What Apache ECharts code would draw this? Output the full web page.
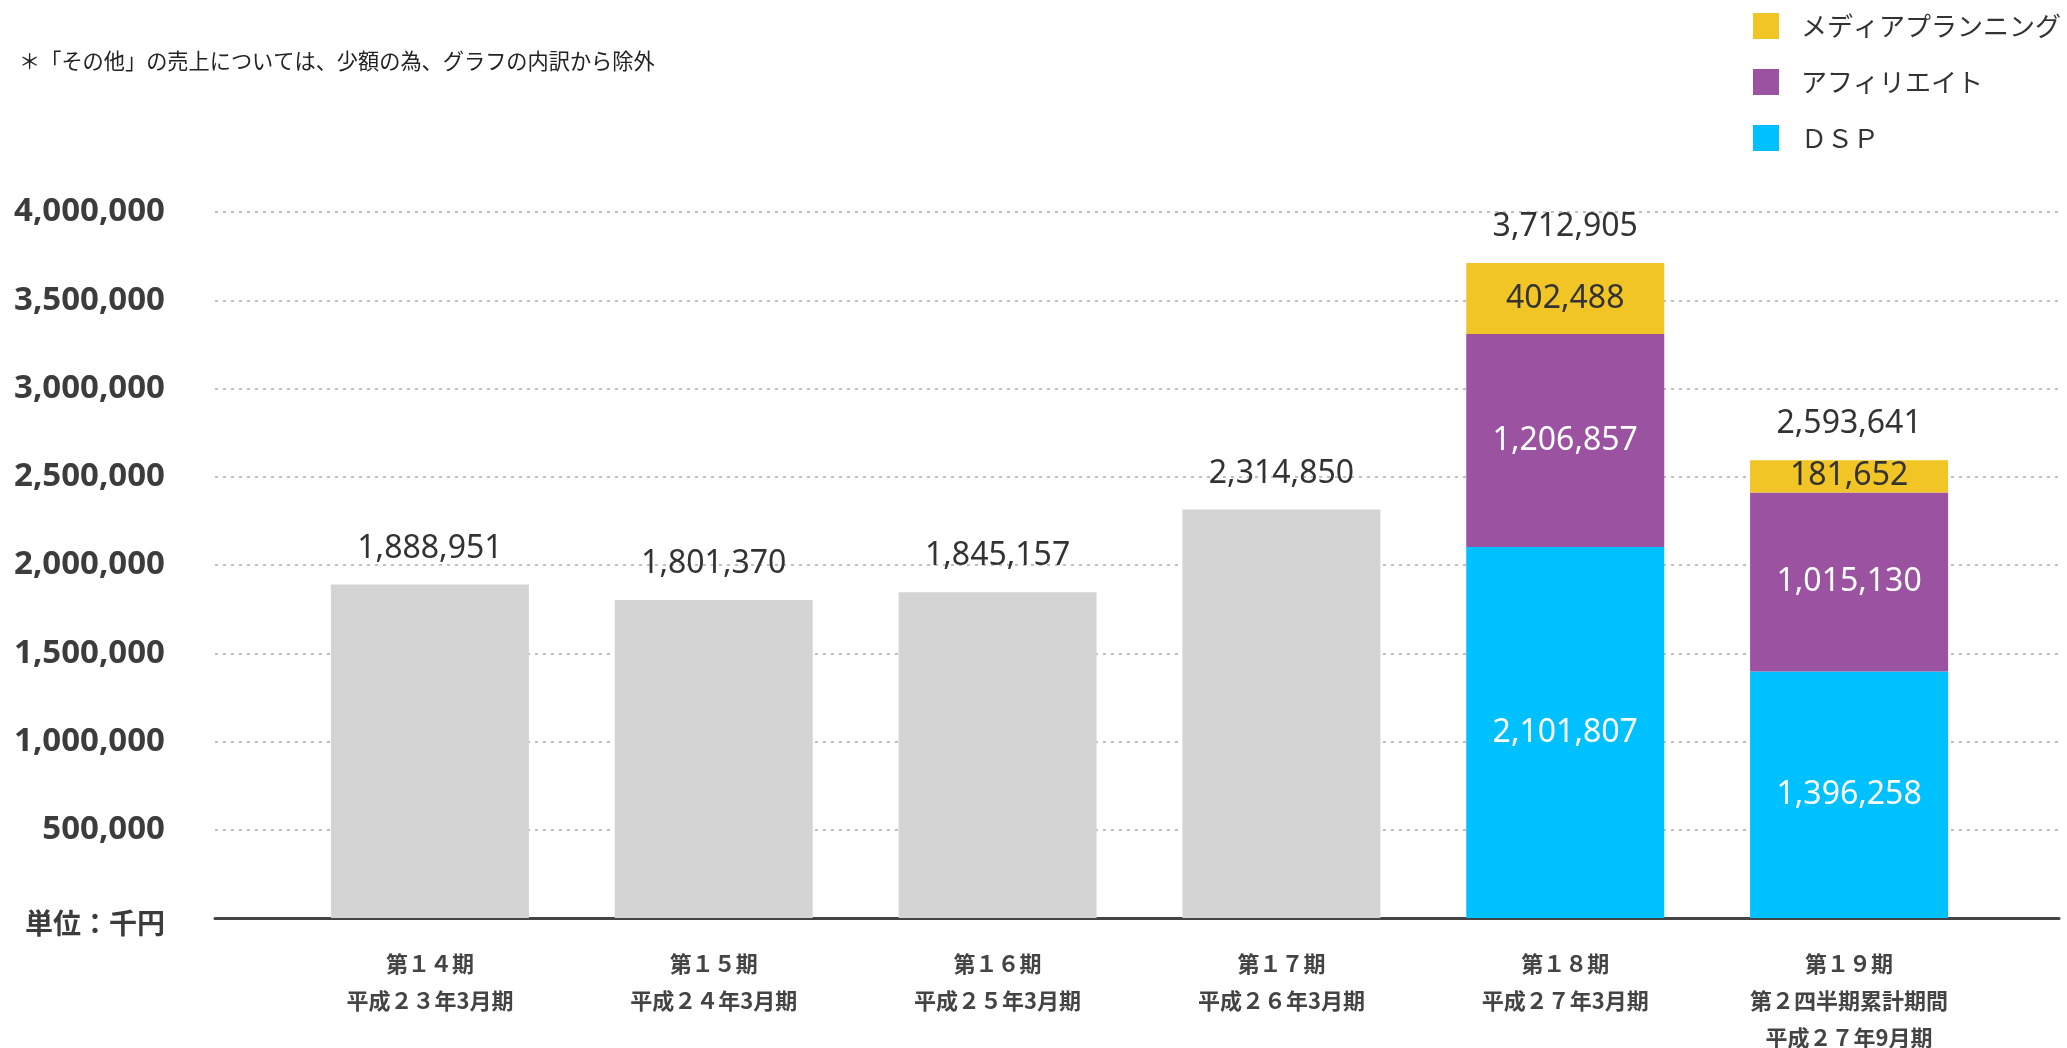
<!DOCTYPE html>
<html>
<head>
<meta charset="utf-8">
<script src="https://cdn.jsdelivr.net/npm/echarts@6/dist/echarts.min.js"></script>
<style>
  html, body { margin: 0; padding: 0; background: #fff; }
  #salesChart { width: 2067px; height: 1048px; }
</style>
</head>
<body>
<div id="salesChart"></div>
<script>
// 期ごとの売上（単位：千円）
var categories = [
  '第１４期\n平成２３年3月期',
  '第１５期\n平成２４年3月期',
  '第１６期\n平成２５年3月期',
  '第１７期\n平成２６年3月期',
  '第１８期\n平成２７年3月期',
  '第１９期\n第２四半期累計期間\n平成２７年9月期'
];
var totals = [1888951, 1801370, 1845157, 2314850, 3712905, 2593641];
var grayValues = [1888951, 1801370, 1845157, 2314850, '-', '-'];
var dspValues = ['-', '-', '-', '-', 2101807, 1396258];
var affiliateValues = ['-', '-', '-', '-', 1206857, 1015130];
var mediaValues = ['-', '-', '-', '-', 402488, 181652];
var seriesNames = ['ＤＳＰ', 'アフィリエイト', 'メディアプランニング'];

var yTicks = { min: 0, max: 4000000, interval: 500000 };

function fmt(v) {
  return Number(v).toLocaleString('en-US');
}

var myChart = echarts.init(document.getElementById('salesChart'));

var numFont = '"Noto Sans", "DejaVu Sans", sans-serif';
var jpFont = '"Noto Sans CJK JP", sans-serif';

function segment(name, values, color, textColor) {
  return {
    name: name,
    type: 'bar',
    stack: 'sales',
    xAxisIndex: 1,
    yAxisIndex: 1,
    barWidth: 198,
    data: values,
    itemStyle: { color: color },
    label: {
      show: true,
      position: 'inside',
      formatter: function (p) { return fmt(p.value); },
      color: textColor,
      fontFamily: numFont,
      fontSize: 32
    }
  };
}

var option = {
  animation: false,
  backgroundColor: '#fff',
  title: {
    text: '＊「その他」の売上については、少額の為、グラフの内訳から除外',
    left: 14,
    top: 45,
    textStyle: {
      fontFamily: jpFont,
      fontWeight: 'normal',
      fontSize: 21.2,
      color: '#222'
    }
  },
  legend: {
    orient: 'vertical',
    left: 1748,
    top: 8,
    itemWidth: 26,
    itemHeight: 26,
    itemGap: 30,
    icon: 'rect',
    data: ['メディアプランニング', 'アフィリエイト', 'ＤＳＰ'],
    textStyle: {
      fontFamily: jpFont,
      fontSize: 26,
      color: '#333',
      padding: [0, 0, 0, 17]
    }
  },
  grid: [
    // 目盛線と軸線用（全幅）
    { left: 215, right: 8, top: 212, bottom: 130, outerBoundsMode: 'none' },
    // 棒グラフ用
    { left: 288, right: 76, top: 212, bottom: 130, outerBoundsMode: 'none' }
  ],
  xAxis: [
    {
      type: 'category',
      gridIndex: 0,
      data: categories,
      axisLine: { lineStyle: { color: '#444', width: 3 } },
      axisTick: { show: false },
      axisLabel: { show: false }
    },
    {
      type: 'category',
      gridIndex: 1,
      data: categories,
      axisLine: { show: false },
      axisTick: { show: false },
      axisLabel: {
        margin: 27,
        lineHeight: 37,
        fontFamily: jpFont,
        fontWeight: 'bold',
        fontSize: 22,
        color: '#444'
      }
    }
  ],
  yAxis: [
    {
      type: 'value',
      gridIndex: 0,
      min: yTicks.min,
      max: yTicks.max,
      interval: yTicks.interval,
      axisLine: { show: false },
      axisTick: { show: false },
      splitLine: { lineStyle: { color: '#aaa', type: [3, 5], width: 1.5 } },
      axisLabel: {
        margin: 50,
        formatter: function (v) { return v === 0 ? '{u|単位：千円}' : fmt(v); },
        fontFamily: numFont,
        fontWeight: 'bold',
        fontSize: 33,
        color: '#3c3c3c',
        rich: {
          u: { fontFamily: jpFont, fontWeight: 'bold', fontSize: 28, color: '#3c3c3c', padding: [10, 0, 0, 0] }
        }
      }
    },
    {
      type: 'value',
      gridIndex: 1,
      min: yTicks.min,
      max: yTicks.max,
      interval: yTicks.interval,
      show: false,
      splitLine: { show: false }
    }
  ],
  series: [
    {
      name: '合計（内訳なし）',
      type: 'bar',
      stack: 'sales',
      xAxisIndex: 1,
      yAxisIndex: 1,
      barWidth: 198,
      data: grayValues,
      itemStyle: { color: '#d4d4d4' }
    },
    segment(seriesNames[0], dspValues, '#00c1ff', '#fff'),
    segment(seriesNames[1], affiliateValues, '#9a52a1', '#fff'),
    segment(seriesNames[2], mediaValues, '#f1c525', '#333'),
    {
      // 合計ラベル
      name: '合計',
      type: 'bar',
      stack: 'sales',
      xAxisIndex: 1,
      yAxisIndex: 1,
      barWidth: 198,
      data: totals.map(function () { return 0; }),
      itemStyle: { color: 'transparent' },
      label: {
        show: true,
        position: 'top',
        distance: 20,
        formatter: function (p) { return fmt(totals[p.dataIndex]); },
        fontFamily: numFont,
        fontSize: 32,
        color: '#333'
      }
    }
  ]
};

myChart.setOption(option);
</script>
</body>
</html>
